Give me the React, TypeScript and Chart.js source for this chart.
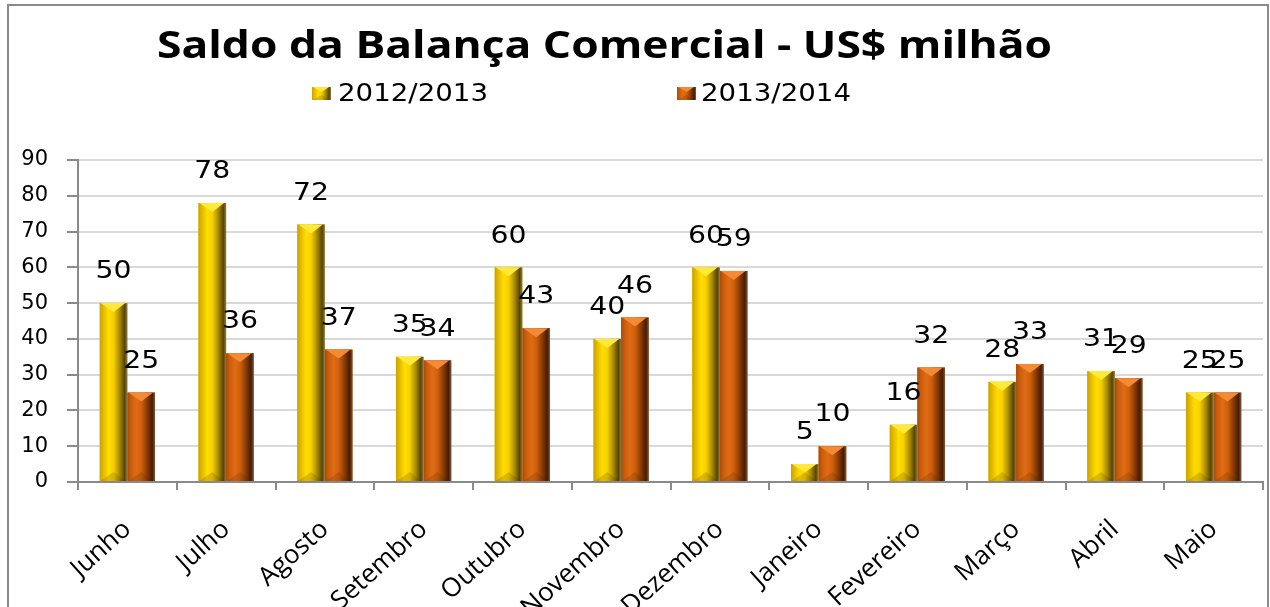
import React, { useEffect, useRef } from 'react';
import { Chart, registerables } from 'chart.js';

Chart.register(...registerables);

const months = ['Junho', 'Julho', 'Agosto', 'Setembro', 'Outubro', 'Novembro', 'Dezembro', 'Janeiro', 'Fevereiro', 'Março', 'Abril', 'Maio'];
const series1Label = '2012/2013';
const series2Label = '2013/2014';
const series1 = [50, 78, 72, 35, 60, 40, 60, 5, 16, 28, 31, 25];
const series2 = [25, 36, 37, 34, 43, 46, 59, 10, 32, 33, 29, 25];
const yMin = 0;
const yMax = 90;
const yStep = 10;
const titleText = 'Saldo da Balança Comercial - US$ milhão';

type Stop = [number, string];
const yellowStops: Stop[] = [[0, '#C8A200'], [0.12, '#E2B800'], [0.32, '#FFDE00'], [0.5, '#F6D000'], [0.7, '#B09000'], [0.9, '#564500'], [1, '#8C7C50']];
const orangeStops: Stop[] = [[0, '#A84A06'], [0.12, '#C85C0C'], [0.32, '#E06C14'], [0.5, '#D0600E'], [0.7, '#903E06'], [0.9, '#461C02'], [1, '#7A5A40']];
const yellowTop = '#FFEA3A';
const orangeTop = '#F28A36';
const seriesStops = [yellowStops, orangeStops];
const seriesTop = [yellowTop, orangeTop];
const seriesBase = ['#F2C800', '#D2600E'];

function gradient(ctx: CanvasRenderingContext2D, l: number, r: number, stops: Stop[]) {
  const g = ctx.createLinearGradient(l, 0, r, 0);
  stops.forEach(([o, c]) => g.addColorStop(o, c));
  return g;
}

function drawBevelBar(ctx: CanvasRenderingContext2D, l: number, r: number, top: number, bottom: number, di: number, depth: number) {
  const w = r - l;
  const h = bottom - top;
  if (h <= 0) return;
  ctx.fillStyle = gradient(ctx, l, r, seriesStops[di]);
  ctx.fillRect(l, top, w, h);
  const b = Math.min(depth, h / 2);
  const cx = (l + r) / 2;
  ctx.fillStyle = seriesTop[di];
  ctx.beginPath();
  ctx.moveTo(l + 1, top);
  ctx.lineTo(r - 2, top);
  ctx.lineTo(cx, top + b);
  ctx.closePath();
  ctx.fill();
  ctx.fillStyle = 'rgba(70,40,0,0.18)';
  ctx.beginPath();
  ctx.moveTo(l + 1, bottom);
  ctx.lineTo(r - 2, bottom);
  ctx.lineTo(cx, bottom - b);
  ctx.closePath();
  ctx.fill();
}

const framePlugin = {
  id: 'frame',
  beforeDraw(chart: any) {
    const ctx = chart.ctx as CanvasRenderingContext2D;
    ctx.save();
    ctx.fillStyle = '#ffffff';
    ctx.fillRect(0, 0, chart.width, chart.height);
    ctx.strokeStyle = '#8a8a8a';
    ctx.lineWidth = 2;
    ctx.strokeRect(8, 5, 1260, 700);
    ctx.restore();
  },
};

const headerPlugin = {
  id: 'header',
  afterDraw(chart: any) {
    const ctx = chart.ctx as CanvasRenderingContext2D;
    ctx.save();
    ctx.font = 'bold 37px "Open Sans"';
    ctx.fillStyle = '#000';
    ctx.textBaseline = 'alphabetic';
    ctx.textAlign = 'center';
    const tw = ctx.measureText(titleText).width;
    const tsx = 895 / tw;
    ctx.save();
    ctx.translate(604.5, 58);
    ctx.scale(tsx, 1);
    ctx.fillText(titleText, 0, 0);
    ctx.restore();
    ctx.font = '24px "DejaVu Sans"';
    ctx.textAlign = 'left';
    const lw = ctx.measureText(series1Label).width;
    const lsx = 150 / lw;
    const items = [
      { label: series1Label, box: 312, text: 338 },
      { label: series2Label, box: 677, text: 701 },
    ];
    items.forEach((it, i) => {
      drawBevelBar(ctx, it.box, it.box + 19, 87, 100, i, 5);
      ctx.save();
      ctx.translate(it.text, 101);
      ctx.scale(lsx, 1);
      ctx.fillStyle = '#000';
      ctx.fillText(it.label, 0, 0);
      ctx.restore();
    });
    ctx.restore();
  },
};

const barsPlugin = {
  id: 'bevelBars',
  afterDatasetsDraw(chart: any) {
    const ctx = chart.ctx as CanvasRenderingContext2D;
    ctx.save();
    chart.data.datasets.forEach((ds: any, di: number) => {
      const meta = chart.getDatasetMeta(di);
      meta.data.forEach((el: any) => {
        const { x, y, base, width } = el.getProps(['x', 'y', 'base', 'width'], true);
        drawBevelBar(ctx, x - width / 2, x + width / 2, y, base, di, 9);
      });
    });
    ctx.font = '24px "DejaVu Sans"';
    ctx.fillStyle = '#000';
    ctx.textAlign = 'center';
    ctx.textBaseline = 'middle';
    chart.data.datasets.forEach((ds: any, di: number) => {
      const meta = chart.getDatasetMeta(di);
      meta.data.forEach((el: any, i: number) => {
        const { x, y } = el.getProps(['x', 'y'], true);
        ctx.save();
        ctx.translate(x, y - 31);
        ctx.scale(1.18, 1);
        ctx.fillText(String(Math.round(ds.data[i])), 0, 0);
        ctx.restore();
      });
    });
    ctx.restore();
  },
};

export default function App() {
  const ref = useRef<HTMLCanvasElement>(null);
  useEffect(() => {
    if (!ref.current) return;
    const chart = new Chart(ref.current, {
      type: 'bar',
      data: {
        labels: months,
        datasets: [
          { label: series1Label, data: series1, backgroundColor: seriesBase[0], borderWidth: 0, categoryPercentage: 0.56, barPercentage: 1.0 },
          { label: series2Label, data: series2, backgroundColor: seriesBase[1], borderWidth: 0, categoryPercentage: 0.56, barPercentage: 1.0 },
        ],
      },
      options: {
        responsive: false,
        animation: false,
        devicePixelRatio: 1,
        layout: { padding: { left: 0, top: 160, right: 7, bottom: 0 } },
        plugins: {
          legend: { display: false },
          title: { display: false },
          tooltip: { enabled: false },
        },
        scales: {
          x: {
            grid: { offset: true, drawOnChartArea: false, drawTicks: true, tickLength: 8, color: '#8a8a8a', lineWidth: 2 },
            border: { display: true, color: '#8a8a8a', width: 2 },
            ticks: {
              font: { family: '"Open Sans"', size: 26 },
              color: '#000',
              minRotation: 42,
              maxRotation: 42,
              padding: 24,
              autoSkip: false,
            },
            afterFit: (scale: any) => { scale.height = 125; },
          },
          y: {
            min: yMin,
            max: yMax,
            ticks: {
              stepSize: yStep,
              font: { family: '"DejaVu Sans"', size: 21 },
              color: '#000',
              padding: 19,
            },
            grid: { color: '#d9d9d9', lineWidth: 2, tickLength: 11, tickColor: '#8a8a8a', tickWidth: 2 },
            border: { display: true, color: '#8a8a8a', width: 2 },
            afterFit: (scale: any) => { scale.width = 78; },
          },
        },
      },
      plugins: [framePlugin, barsPlugin, headerPlugin],
    });
    return () => chart.destroy();
  }, []);
  return (
    <div style={{ position: 'fixed', left: 0, top: 0, width: 1270, height: 607, background: '#fff', overflow: 'hidden' }}>
      <canvas ref={ref} width={1270} height={607} style={{ display: 'block' }} />
    </div>
  );
}
